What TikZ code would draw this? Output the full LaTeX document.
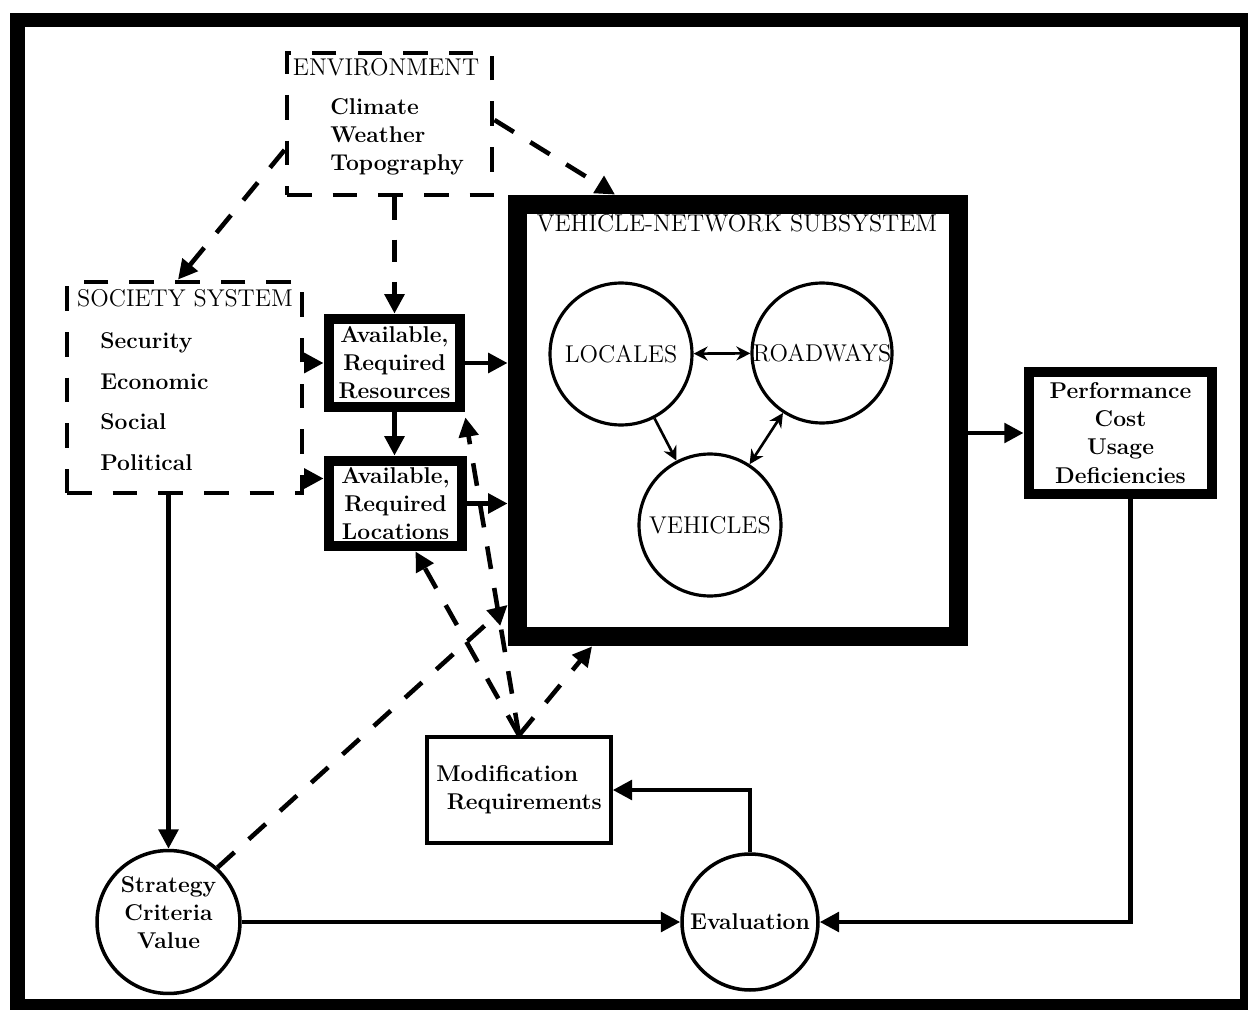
\documentclass[tikz,border=0pt]{standalone}
\usepackage{fontspec}
\usetikzlibrary{arrows.meta}

\begin{document}
\begin{tikzpicture}[x=0.02cm, y=-0.02cm, line width=2.6pt,
    >={Triangle[length=11pt,width=11pt]},
    lbl/.style={font=\fontsize{13}{16}\selectfont\bfseries, align=center, inner sep=0pt},
    ttl/.style={font=\fontsize{13.8}{16}\selectfont, inner sep=0pt},
    dash box/.style={draw, dash pattern=on 14pt off 12pt, line width=2.8pt},
    thick box/.style={draw, line width=6.2pt, lbl},
    ring/.style={circle, draw, line width=1.8pt, inner sep=0pt},
    feed/.style={dash pattern=on 13pt off 11pt, ->},
    link/.style={line width=1.5pt, >={Stealth[length=8pt,width=8pt]}}]

    \useasboundingbox (0,0) rectangle (1248,1010);

    % Outer frame
    \draw[line width=8.5pt] (17.5,20) rectangle (1247,1006);

    % Environment
    \node[dash box, minimum width=4.1cm, minimum height=2.84cm] (env) at (389.5,124) {};
    \node[ttl] (envtitle) at (386,67) {ENVIRONMENT};
    \node[lbl, align=left, anchor=west] (envlist) at (328,136.5) {Climate\\Weather\\Topography};

    % Society system
    \node[dash box, minimum width=4.7cm, minimum height=4.22cm] (soc) at (184.5,387.5) {};
    \node[ttl] (soctitle) at (185,298) {SOCIETY SYSTEM};
    \node[lbl, align=left, anchor=west, font=\fontsize{13}{23.2}\selectfont\bfseries] (soclist) at (98,401.5) {Security\\Economic\\Social\\Political};

    % Resources and locations
    \node[thick box, minimum width=2.62cm, minimum height=1.76cm] (res) at (394.5,363) {Available,\\Required\\Resources};
    \node[thick box, minimum width=2.66cm, minimum height=1.7cm] (loc) at (395.5,503.5) {Available,\\Required\\Locations};

    % Vehicle-network subsystem
    \node[draw, line width=10.8pt, minimum width=8.84cm, minimum height=8.66cm] (vn) at (738,420.5) {};
    \node[ttl] (vntitle) at (737,223) {VEHICLE-NETWORK SUBSYSTEM};
    \node[ring, ttl, minimum size=2.84cm] (locales) at (621,354) {LOCALES};
    \node[ring, ttl, minimum size=2.8cm] (roadways) at (822,353) {ROADWAYS};
    \node[ring, ttl, minimum size=2.84cm] (vehicles) at (710,525) {VEHICLES};

    % Outputs and evaluation
    \node[thick box, minimum width=3.66cm, minimum height=2.44cm] (perf) at (1120.5,433) {Performance\\Cost\\Usage\\Deficiencies};
    \node[draw, line width=2pt, minimum width=3.68cm, minimum height=2.12cm, lbl, align=left] (mod) at (519,790) {Modification\\\hspace{6pt}Requirements};
    \node[ring, lbl, line width=2pt, minimum size=2.86cm, text depth=11pt] (strat) at (168.5,922) {Strategy\\Criteria\\Value};
    \node[ring, lbl, line width=2pt, minimum size=2.72cm] (eval) at (750,922) {Evaluation};

    \coordinate (locin) at ([yshift=0.5cm]loc.west);

    % dashed influences
    \draw[feed] ([yshift=-0.52cm]env.west) -- ([xshift=-0.13cm]soc.north);
    \draw[feed] ([yshift=0.08cm]env.east) -- ([xshift=-2.46cm]vn.north);
    \draw[feed] (env.south -| res.north) -- (res.north);
    \draw[feed] (mod.north) -- ([xshift=0.4cm]loc.south);
    \draw[feed] (mod.north) -- ([yshift=-0.1cm]res.south east);
    \draw[feed] (mod.north) -- ([xshift=-2.92cm]vn.south);
    \draw[feed] (strat.48) -- ([yshift=0.83cm]vn.south west);

    % solid flows
    \draw[->] (soc.east |- res.west) -- (res.west);
    \draw[->] (soc.east |- locin) -- (locin);
    \draw[->] (res.south) -- (res.south |- loc.north);
    \draw[->] (res.east) -- (res.east -| vn.west);
    \draw[->] (loc.east) -- (loc.east -| vn.west);
    \draw[->] (vn.east |- perf.west) -- (perf.west);
    \draw[->] ([xshift=0.2cm]perf.south) |- (eval.east);
    \draw[->] (eval.north) |- (mod.east);
    \draw[->] (strat.east) -- (eval.west);
    \draw[->] (soc.south -| strat.north) -- (strat.north);

    % inside the subsystem
    \draw[link, <->] (locales) -- (roadways);
    \draw[link, ->] (locales) -- (vehicles);
    \draw[link, <->] (roadways) -- (vehicles);

\end{tikzpicture}
\end{document}
